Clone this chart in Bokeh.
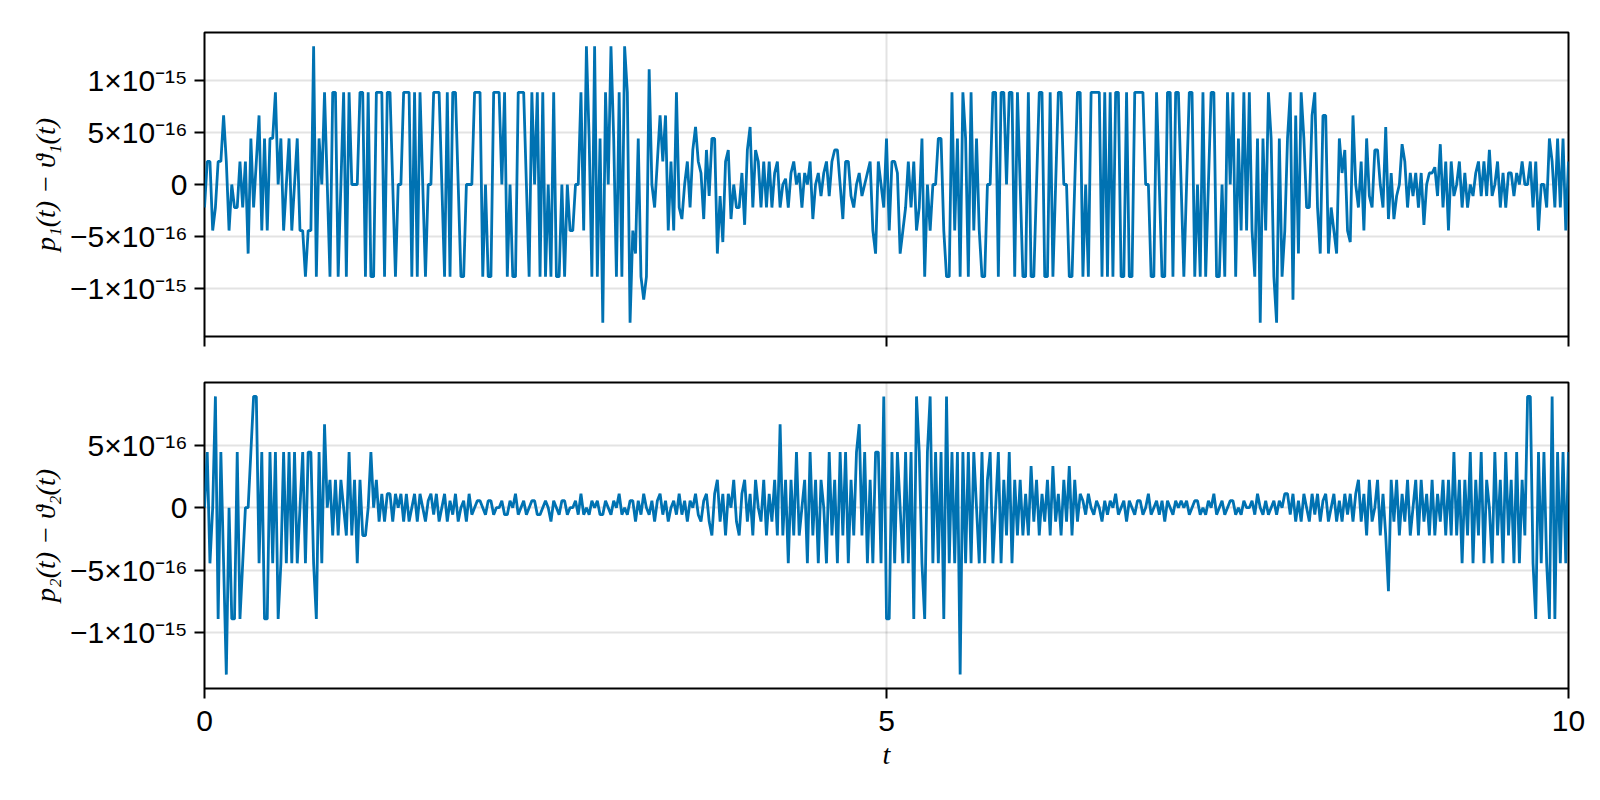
import numpy as np
from bokeh.plotting import figure
from bokeh.layouts import column
from bokeh.models import Range1d, FixedTicker
from bokeh.embed import file_html
from bokeh.resources import INLINE

# values are in units of 2^-54 (about 5.55e-17)
UNIT = 2.0 ** -54

p1_units = [
    # t 0 .. 0.92
    -4, 4, 4, -8, -4, 4, 4, 12, 4, -8,
    0, -4, -4, 4, -4, 4, -12, 8, -4, 4,
    12, -8, 8, -8, 8, 8, 16, 0, 8, -8,
    0, 8, -8, 0, 8, -8, -8, -16, -8, -8,
    24, -16, 8, 0, 16, 0, -16,
    # t 0.94 .. 2.46
    16, 16, -16, 0, 16, -16, 16, 0, 0, 0,
    16, 16, -16, 16, -16, -16, 16, 16, 16, -16,
    16, 16, 0, -16, 0, 0, 16, 16, 16, -16,
    16, -16, 16, 0, -16, 0, 0, 16, 16, 16,
    0, -16, 16, -16, 16, 16, 0, -16, -16, 0,
    0, 0, 16, 16, 16, -16, 0, -16, -16, 16,
    16, 16, 0, 16, -16, 0, -16, -16, 16, 16,
    16, 0, -16, 16, 0, 16, -16,
    # t 2.48 .. 2.78
    16, -16, 0, -16, 16, -16, -16, 0, -16, 0, -8, -8, 0, 0, 16, -8,
    # t 2.80 .. 4.98
    24, 8, -16, 24, -16, 8, -24, 16, 0, 24,
    8, -16, 16, -16, 24, 16, -24, -8, -12, 8,
    -16, -20, -16, 20, 0, -4, 4, 12, 4, 12,
    -8, 4, -8, 16, -4, -6, 0, 4, -4, 6,
    10, 4, 2, -6, 6, -2, 8, 8, -12, -2,
    -10, 4, 6, -6, 0, -4, -4, 2, -7, 6,
    10, -4, 6, 4, -4, 4, -4, 4, -4, 2,
    4, -4, 0, 1, -4, 2, 4, 0, 2, -4,
    2, 0, 4, -6, 0, 2, -2, 2, 4, -2,
    4, 6, 6, 0, -6, 4, 4, -2, -4, 0,
    2, -2, 0, 2, 4, -8, -12, 4, 0, -4,
    # t 5.00 .. 5.76
    8, -8, 4, 4, 2, -12, -8, -4, 4, -4,
    4, -8, -4, 8, -16, 0, -8, 0, 0, 8,
    8, -8, -16, -16, 16, -8, 8, -16, 16, 8,
    -16, 16, -8, 8, -8, -16, -16, 0, 0,
    # t 5.78 .. 7.52
    16, 16, -16, 16, 16, 0, 16, 16, -16, 16,
    0, -16, -16, 16, -16, -16, 0, 16, 16, -16,
    -16, 16, -16, 0, 16, 16, 0, 0, -16, -16,
    0, 16, 16, -16, 0, -16, 16, 16, 16, 16,
    -16, 16, -16, 16, -16, 16, 16, -16, -16, 16,
    -16, -16, 16, 16, 16, 16, 0, 0, -16, -16,
    16, 0, -16, -16, 16, 16, -16, 16, 16, 0,
    -16, 0, 16, 16, -16, 0, -16, 16, -16, 0,
    16, 16, -16, -16, 0, -16, 16, 0,
    # t 7.54 .. 10
    16, -16, 8, -8, 16, -8, 16, -8, -16, 8,
    -24, 8, -8, 16, 8, -16, -24, 8, -16, -8,
    8, 16, -20, 12, -12, 16, 8, -4, -4, 12,
    16, -4, -12, 12, 12, -12, -4, -8, -12, 8,
    2, 6, -8, -10, 12, 0, -4, 4, -8, 8,
    -2, -4, 6, 6, 0, -4, 10, -6, 2, -6,
    -2, 0, 7, 4, -4, 2, -2, 2, -4, 2,
    -7, 0, 2, 2, 3, -2, 7, -4, 4, -8,
    4, -2, 0, 4, -4, 2, -4, 0, -2, 2,
    4, -2, 4, -2, 6, -2, 0, 4, -4, 2,
    -4, 2, 2, -2, 2, 0, 4, 0, 0, 4,
    -4, 4, -8, 0, 0, -4, 8, 4, -4, 8,
    -4, 8, -8, 4,
]

p2_units = [
    # t 0 .. 1.44
    0, 8, -8, 0, 16, -16, 8, -8, -24, 0,
    -16, -16, 8, -16, -8, 0, 0, 8, 16, 16,
    -8, 8, -16, -16, 8, -8, 8, -16, -8, 8,
    -8, 8, -8, 8, -8, 0, 8, -8, 8, 8,
    -8, -16, 8, -8, 12, 0, 4, -4, 4, -4,
    4, 0, -4, 8, -4, 4, -8, 4, -4, -4,
    0, 8, 0, 4, -2, 2, -2, 2, 2, -2,
    2, 0, 2,
    # t 1.46 .. 2.00
    -2, 2, -2, 0, 2, -2, 2, 0, -2, 1,
    2, -1, 2, -2, 0, 2, -2, 1, -1, 2,
    -2, 0, 1, -2, 2, -1, 0, 1,
    # t 2.02 .. 3.12
    1, 0, -1, 1, 1, -1, 0, 0, 1, -1,
    -1, 1, 0, 2, -1, 0, 1, -1, 0, 1,
    1, -1, -1, 0, 1, 0, -2, 1, 0, -1,
    1, 1, -1, 0, 0, 1, -1, 2, -1, 0,
    -1, 1, 0, 1, -1, -1, 1, 0, -1, 1,
    0, 2, -1, 0, -1, 1,
    # t 3.14 .. 3.74
    1, -2, 1, -1, 2, 0, -1, 1, -2, 1,
    2, -1, 1, -2, 0, 1, -1, 2, -1, 1,
    -2, 1, 0, 2, -1, -2, 1, 2, -2, -4,
    2,
    # t 3.76 .. 4.20
    4, -2, 2, -4, 2, 0, 4, -2, -4, 2,
    4, -2, 2, -4, 4, 0, -2, 4, -4, 2,
    -2, 4, -4,
    # t 4.22 .. 4.92
    12, -4, 4, -8, 4, -4, 8, -4, 0, 4,
    -8, 8, -4, 4, -8, 4, 0, -8, 8, -4,
    4, -8, 8, -4, 8, -8, 4, -4, 8, 12,
    -4, 8, -8, 4, -8, 8,
    # t 4.94 .. 5.66
    8, -8, 16, -16, -16, 8, -8, 8, 0, -8,
    8, -8, 8, -16, 16, 8, -8, -16, 8, 16,
    -8, 8, -8, 8, -16, 16, -8, 8, -8, 8,
    -24, 8, -8, 8, -8, 8, 0,
    # t 5.68 .. 5.96
    -8, 8, -8, 4, 8, -8, 0, 8, -8, 4,
    -4, 8, -8, 4, -4,
    # t 5.98 .. 6.42
    4, -4, 2, -4, 6, -2, 4, -4, 2, -2,
    4, -4, 6, -2, 2, -4, 4, -2, 6, -4,
    4, -2, 2,
    # t 6.44 .. 7.16
    1, -1, 2, 0, -1, 1, 0, -2, 1, -1,
    1, 0, 2, -1, 0, 1, -2, 1, 0, -1,
    1, 1, -1, 0, 2, -1, 0, 1, -1, 1,
    -2, 1, 0, -1, 1, 0, 1,
    # t 7.18 .. 7.92
    0, 1, -1, 0, 1, 1, -1, 0, -1, 1,
    0, 2, -1, 0, 1, -1, 0, 1, 1, -1,
    0, -1, 1, 0, 0, 1, -1, 2, 0, -1,
    1, -1, 0, 1, -1, 1, 0, 2,
    # t 7.94 .. 8.44
    2, -1, 2, -2, 1, -2, 2, 0, -2, 2,
    -1, 2, -2, 1, 2, -2, 0, 2, -2, 1,
    -2, 2, -1, 2, -2, 2,
    # t 8.46 .. 9.10
    4, -2, 2, -4, 4, -2, 0, 4, -4, 2,
    -4, -12, 4, -2, 4, -4, 2, -2, 4, -4,
    0, 4, -4, 4, -2, 2, -4, 4, -4, 2,
    -2, 4, -4,
    # t 9.12 .. 10
    4, -4, 8, -4, 4, -8, 4, -4, 8, -8,
    4, -4, 8, -8, 4, 0, -8, 8, -4, 4,
    -8, 8, -4, 4, -8, 8, -8, 4, -4,
    16, 16, -8, -16, 8, -8, 8, -8, -16, 16,
    -16, 8, -8, 8, -8, 8,
]

x_ticks = [0, 5, 10]
x_tick_labels = ["0", "5", "10"]
top_y_ticks = [-1e-15, -5e-16, 0.0, 5e-16, 1e-15]
top_y_labels = ["\u22121\u00d710\u207b\u00b9\u2075", "\u22125\u00d710\u207b\u00b9\u2076", "0",
                "5\u00d710\u207b\u00b9\u2076", "1\u00d710\u207b\u00b9\u2075"]
bot_y_ticks = [-1e-15, -5e-16, 0.0, 5e-16]
bot_y_labels = ["\u22121\u00d710\u207b\u00b9\u2075", "\u22125\u00d710\u207b\u00b9\u2076", "0",
                "5\u00d710\u207b\u00b9\u2076"]

y1 = np.array(p1_units, dtype=float) * UNIT
y2 = np.array(p2_units, dtype=float) * UNIT
t1 = np.linspace(0, 10, len(y1))
t2 = np.linspace(0, 10, len(y2))

LINE = "#0072b2"
SANS = "Liberation Sans"
SERIF = "Liberation Serif"
TICK_FS = "30px"
LABEL_FS = "28px"


def padded(y):
    lo, hi = float(y.min()), float(y.max())
    s = hi - lo
    return lo - 0.05 * s, hi + 0.05 * s


def make_fig(height, top, bottom, y, t, yticks, ylabels, ylabel, show_x):
    lo, hi = padded(y)
    p = figure(width=1600, height=height, output_backend="svg", toolbar_location=None,
               x_range=Range1d(0, 10), y_range=Range1d(lo, hi),
               min_border_left=204, min_border_right=32,
               min_border_top=top, min_border_bottom=bottom,
               background_fill_color="white", border_fill_color="white")
    p.outline_line_color = "black"
    p.outline_line_width = 2
    p.line(t, y, line_color=LINE, line_width=2.8)

    p.xaxis.ticker = FixedTicker(ticks=x_ticks)
    p.xaxis.minor_tick_line_color = None
    p.xaxis.major_tick_in = 0
    p.xaxis.major_tick_out = 10
    p.xaxis.major_tick_line_width = 2
    p.xaxis.axis_line_color = None
    if show_x:
        p.xaxis.major_label_overrides = {v: s for v, s in zip(x_ticks, x_tick_labels)}
        p.xaxis.major_label_text_font = SANS
        p.xaxis.major_label_text_font_size = TICK_FS
        p.xaxis.major_label_text_color = "black"
        p.xaxis.major_label_standoff = 12
        p.xaxis.axis_label = "t"
        p.xaxis.axis_label_text_font = SERIF
        p.xaxis.axis_label_text_font_style = "italic"
        p.xaxis.axis_label_text_font_size = LABEL_FS
        p.xaxis.axis_label_text_color = "black"
        p.xaxis.axis_label_standoff = 5
    else:
        p.xaxis.major_label_text_color = None
        p.xaxis.major_label_text_font_size = "0px"

    p.yaxis.ticker = FixedTicker(ticks=yticks)
    p.yaxis.minor_tick_line_color = None
    p.yaxis.major_tick_in = 0
    p.yaxis.major_tick_out = 10
    p.yaxis.major_tick_line_width = 2
    p.yaxis.axis_line_color = None
    p.yaxis.major_label_overrides = {v: s for v, s in zip(yticks, ylabels)}
    p.yaxis.major_label_text_font = SANS
    p.yaxis.major_label_text_font_size = TICK_FS
    p.yaxis.major_label_text_color = "black"
    p.yaxis.major_label_standoff = 7
    p.yaxis.axis_label = ylabel
    p.yaxis.axis_label_text_font = SERIF
    p.yaxis.axis_label_text_font_style = "italic"
    p.yaxis.axis_label_text_font_size = LABEL_FS
    p.yaxis.axis_label_text_color = "black"
    p.yaxis.axis_label_standoff = 6

    p.xgrid.ticker = FixedTicker(ticks=x_ticks)
    p.ygrid.ticker = FixedTicker(ticks=yticks)
    for g in (p.xgrid, p.ygrid):
        g.grid_line_color = "black"
        g.grid_line_alpha = 0.11
        g.grid_line_width = 2
    return p


p_top = make_fig(359, 32, 23, y1, t1, top_y_ticks, top_y_labels,
                 "p\u2081(t) \u2212 \u03d1\u2081(t)", False)
p_bot = make_fig(440, 23, 111, y2, t2, bot_y_ticks, bot_y_labels,
                 "p\u2082(t) \u2212 \u03d1\u2082(t)", True)

layout = column(p_top, p_bot, spacing=0)
open("out.html", "w").write(file_html(layout, INLINE))
